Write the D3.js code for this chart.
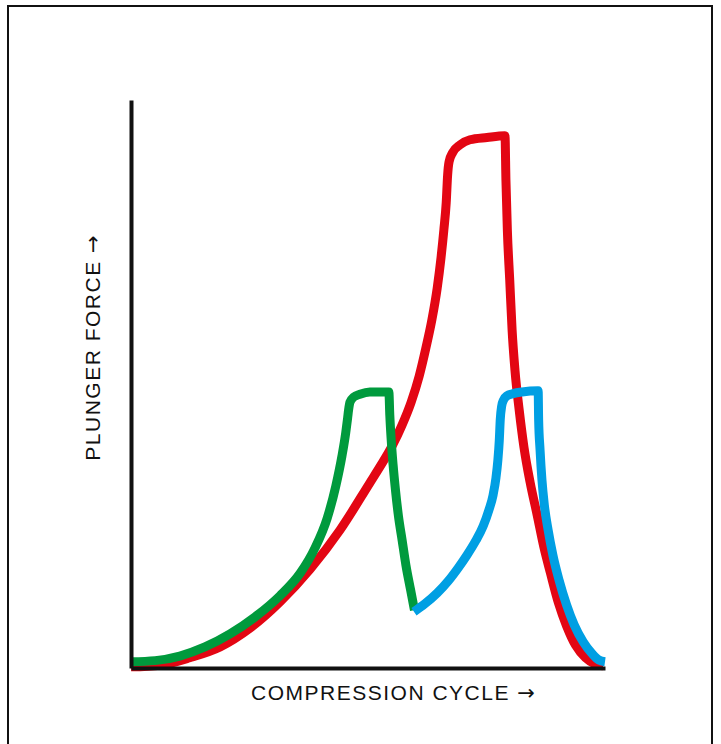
<!DOCTYPE html>
<html>
<head>
<meta charset="utf-8">
<script src="https://cdn.jsdelivr.net/npm/d3@7"></script>
<style>
  html, body { margin: 0; padding: 0; background: #fff; }
  svg { display: block; }
  text { font-family: "Liberation Sans", Arial, Helvetica, sans-serif; fill: #111; }
</style>
</head>
<body>
<svg id="chart" width="721" height="744"></svg>
<script>
// Compression cycle (0-100) vs plunger force (0-100)
const redCycle  = [0, 6.1, 12.4, 18.8, 25.1, 31.4, 37.8, 44.1, 50.4, 52.5, 55.1, 57.2, 59.1, 60.8, 62.2, 63.5, 64.6, 65.4, 66.0, 66.5, 66.8, 67.1, 67.9, 69.4, 71.5, 75.1, 78.9, 79.1, 79.4, 79.9, 80.4, 81.0, 81.9, 82.9, 84.2, 85.7, 87.1, 88.5, 90.2, 91.9, 93.8, 95.9, 97.9, 99.6];
const redForce  = [0.2, 0.5, 1.8, 3.7, 7.0, 11.6, 17.4, 24.3, 32.6, 35.4, 39.1, 42.8, 46.8, 51.4, 56.3, 61.4, 66.9, 72.2, 77.1, 81.9, 86.8, 89.1, 90.8, 92.1, 93.0, 93.4, 93.7, 85.9, 77.1, 68.3, 59.5, 52.5, 45.4, 38.9, 32.7, 26.9, 21.3, 16.7, 11.4, 7.4, 4.0, 1.8, 0.7, 0.4];

const greenCycle = [0, 5.1, 10.3, 15.6, 20.9, 26.2, 31.4, 35.7, 38.8, 41.4, 43.2, 44.5, 45.3, 45.7, 45.9, 46.2, 47.0, 48.3, 50.4, 54.4, 54.6, 54.9, 55.3, 55.8, 56.4, 57.2, 58.0, 59.0, 59.8];
const greenForce = [1.1, 1.3, 2.1, 3.7, 6.0, 9.0, 12.7, 16.7, 21.1, 26.4, 32.0, 37.3, 41.4, 44.0, 45.4, 46.8, 47.7, 48.2, 48.6, 48.6, 44.5, 40.1, 35.7, 31.3, 26.9, 22.5, 18.1, 13.7, 10.2];

const blueCycle = [59.7, 62.0, 64.6, 66.9, 69.0, 70.9, 72.8, 74.3, 75.5, 76.4, 77.0, 77.4, 77.7, 77.9, 78.2, 78.6, 79.3, 80.6, 82.5, 85.9, 86.0, 86.3, 86.7, 87.2, 88.0, 89.0, 90.3, 91.9, 93.5, 95.4, 97.3, 98.7, 100];
const blueForce = [9.9, 11.3, 13.2, 15.3, 17.6, 19.9, 22.5, 25.0, 27.8, 30.5, 33.5, 36.6, 40.1, 43.7, 46.1, 47.2, 47.9, 48.3, 48.6, 48.8, 43.7, 38.4, 33.1, 28.7, 24.3, 19.9, 15.5, 11.1, 7.6, 4.6, 2.5, 1.4, 1.1];

const xLabel = "COMPRESSION CYCLE";
const yLabel = "PLUNGER FORCE";
const arrow = "\u2192";

const svg = d3.select("#chart");

// outer frame (bottom edge runs past the picture)
svg.append("rect")
  .attr("x", 8).attr("y", 6).attr("width", 704).attr("height", 760)
  .attr("fill", "none").attr("stroke", "#111").attr("stroke-width", 2);

const x = d3.scaleLinear().domain([0, 100]).range([131, 605]);
const y = d3.scaleLinear().domain([0, 100]).range([668, 100]);

const line = d3.line()
  .x(d => x(d[0]))
  .y(d => y(d[1]))
  .curve(d3.curveMonotoneX);

const series = [
  { cx: redCycle,   fy: redForce,   color: "#e30613" },
  { cx: greenCycle, fy: greenForce, color: "#009a3d" },
  { cx: blueCycle,  fy: blueForce,  color: "#009fe3" }
];

series.forEach(s => {
  const pts = s.cx.map((c, i) => [c, s.fy[i]]);
  svg.append("path")
    .attr("d", line(pts))
    .attr("fill", "none")
    .attr("stroke", s.color)
    .attr("stroke-width", 9)
    .attr("stroke-linejoin", "miter")
    .attr("stroke-linecap", "butt");
});

// axes: plain lines, no ticks
const gx = svg.append("g").attr("transform", `translate(0,${y(0)})`)
  .call(d3.axisBottom(x).tickValues([]).tickSizeOuter(0));
const gy = svg.append("g").attr("transform", `translate(${x(0)},0)`)
  .call(d3.axisLeft(y).tickValues([]).tickSizeOuter(0));
[gx, gy].forEach(g => g.select(".domain").attr("stroke", "#111").attr("stroke-width", 4));

function label(t, text) {
  t.attr("text-anchor", "middle").attr("font-size", 21).attr("letter-spacing", 1.5);
  t.append("tspan").text(text + " ");
  t.append("tspan").attr("font-family", "DejaVu Sans").attr("letter-spacing", 0).text(arrow);
}

label(svg.append("text").attr("x", 393).attr("y", 700), xLabel);
label(svg.append("text").attr("transform", "translate(100,348) rotate(-90)"), yLabel);
</script>
</body>
</html>
